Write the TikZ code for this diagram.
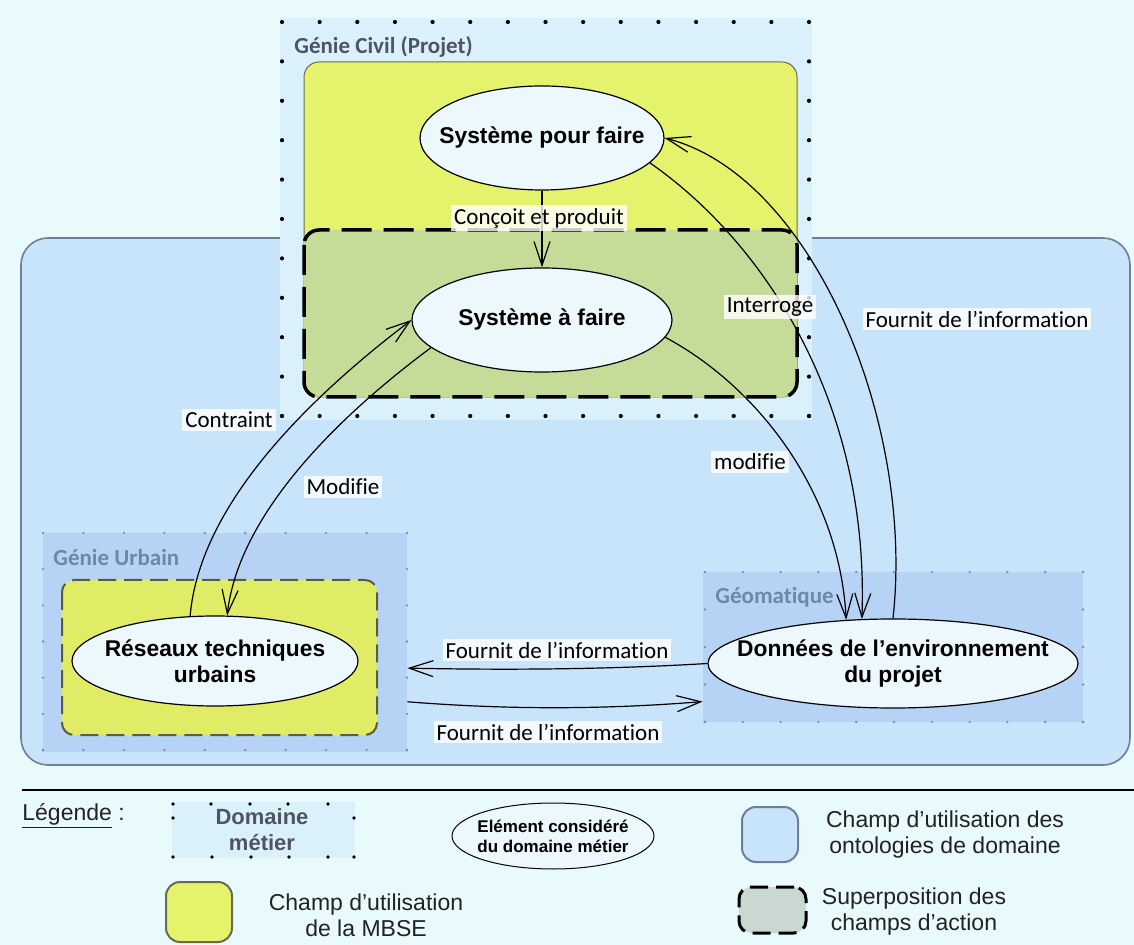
\documentclass[tikz,border=0pt]{standalone}
\usepackage{fontspec}
\setmainfont{Liberation Sans}
\newfontfamily\calibri[Ligatures=NoCommon]{Carlito}
\usetikzlibrary{arrows.meta,shapes.geometric}

\definecolor{fondclair}{HTML}{E9FAFD}
\definecolor{bleuonto}{HTML}{C8E4FA}
\definecolor{bordonto}{HTML}{6E7F96}
\definecolor{fondgc}{HTML}{DAF1FC}
\definecolor{bleudom}{HTML}{B6D3F6}
\definecolor{jaunembse}{HTML}{E5F26B}
\definecolor{bordjaune}{HTML}{6B6B4F}
\definecolor{vertsup}{HTML}{C5DC99}
\definecolor{grissup}{HTML}{C9D8D0}
\definecolor{fondelem}{HTML}{EDF8FD}
\definecolor{gristitre}{HTML}{4E5460}
\definecolor{bleutitre}{HTML}{6F87A8}
\definecolor{pointgris}{HTML}{7F8FA6}
\definecolor{texteleg}{HTML}{222222}

\newcommand{\dotframe}[8]{%
  \foreach \i in {0,...,#5}{
    \fill[#7] ({#1+\i*(#3-#1)/#5},#2) circle (#8);
    \fill[#7] ({#1+\i*(#3-#1)/#5},#4) circle (#8);
  }
  \foreach \j in {1,...,#6}{
    \fill[#7] (#1,{#2+\j*(#4-#2)/#6}) circle (#8);
    \fill[#7] (#3,{#2+\j*(#4-#2)/#6}) circle (#8);
  }
}

\tikzset{
  elem/.style={ellipse, draw, fill=fondelem, line width=0.6pt, inner xsep=-40pt, inner ysep=0pt,
    align=center, font=\fontsize{11.4}{13}\selectfont\bfseries},
  lien/.style={line width=0.6pt, -{Straight Barb[length=12pt,width=8pt]}},
  etiq/.style={fill=white, fill opacity=0.8, text opacity=1, inner sep=1.5pt,
    font=\calibri\fontsize{11.5}{13}\selectfont},
  domaine/.style={anchor=west, inner sep=0pt, font=\calibri\fontsize{11.5}{13}\selectfont\bfseries},
  legtxt/.style={align=center, text=texteleg, font=\fontsize{11.5}{13}\selectfont},
}

\begin{document}
\begin{tikzpicture}[x=0.5pt, y=-0.5pt]
    \useasboundingbox (0,0) rectangle (1134,945);
    \fill[fondclair] (0,0) rectangle (1134,945);

    \draw[fill=bleuonto, draw=bordonto, line width=0.8pt, rounded corners=13.5pt] (21,238) rectangle (1130,765);

    \fill[fondgc] (280,18) rectangle (812,420);
    \dotframe{282}{22}{809}{416}{14}{10}{black}{1.05pt}
    \node[domaine, text=gristitre] (tgc) at (294,47) {Génie Civil (Projet)};

    \draw[fill=jaunembse, draw=bordjaune, line width=0.5pt, rounded corners=7.5pt] (304,62) rectangle (797,397);
    \draw[fill=vertsup, line width=1.75pt, dash pattern=on 15pt off 6pt, rounded corners=7.5pt] (304,230) rectangle (797,397);

    \node[fill=bleudom, minimum width=182pt, minimum height=109.5pt, inner sep=0pt] (gu) at (225,642.5) {};
    \dotframe{43}{533}{407}{750}{9}{6}{pointgris}{0.65pt}
    \node[domaine, text=bleutitre] (tgu) at (53,558) {Génie Urbain};
    \draw[fill=jaunembse!95!olive, draw=bordjaune!85!black, line width=1pt, dash pattern=on 9pt off 4pt, rounded corners=6pt] (62,580) rectangle (377,735);

    \node[fill=bleudom, minimum width=190pt, minimum height=75pt, inner sep=0pt] (geo) at (893,647) {};
    \dotframe{705}{572}{1083}{722}{10}{4}{pointgris}{0.65pt}
    \node[domaine, text=bleutitre] (tgeo) at (715,597) {Géomatique};

    \node[elem, minimum width=122pt, minimum height=52pt] (spf) at (542,138) {Système pour faire};
    \node[elem, minimum width=130pt, minimum height=52pt] (saf) at (542,320) {Système à faire};
    \node[elem, minimum width=143pt, minimum height=45pt] (rtu) at (215,661) {Réseaux techniques\\urbains};
    \node[elem, minimum width=185pt, minimum height=44.5pt] (dep) at (893,663.5) {Données de l’environnement\\du projet};

    \draw[lien] (spf) -- (saf);
    \draw[lien] (spf.-13) .. controls +(111,77) and +(8,-220) .. (dep.125);
    \draw[lien] (dep.north) .. controls +(22,-199) and +(146,37) .. (spf.east);
    \draw[lien] (saf.-8) .. controls +(90,48) and +(-7,-130) .. (dep.137);
    \draw[lien] (rtu.119) .. controls +(10,-117) and +(-92,70) .. (saf.west);
    \draw[lien] (saf.194) .. controls +(-62,46) and +(13,-116) .. (rtu.75);
    \draw[lien] (dep.west) .. controls +(-100,6) and +(100,2) .. (gu.-8);
    \draw[lien] (gu.-18.4) .. controls +(100,8) and +(-100,8) .. (geo.196.4);

    \node[etiq] (lcp) at (539,218) {Conçoit et produit};
    \node[etiq] (lint) at (770,307) {Interroge};
    \node[etiq] (lfi1) at (977,319) {Fournit de l’information};
    \node[etiq] (lmod) at (750,462) {modifie};
    \node[etiq] (lcon) at (229,420) {Contraint};
    \node[etiq] (lmodi) at (343,487) {Modifie};
    \node[etiq] (lfi2) at (557,650) {Fournit de l’information};
    \node[etiq] (lfi3) at (548,732) {Fournit de l’information};

    \draw[line width=0.6pt] (22,790) -- (1134,790);
    \node[anchor=base west, inner sep=0pt, text=texteleg, font=\fontsize{11.5}{13}\selectfont] (leg) at (22,820) {\underline{Légende}~:};

    \fill[fondgc] (172,802) rectangle (355,858);
    \foreach \x in {173,211,250,288,328} \fill[black] (\x,804) circle (0.9pt);
    \foreach \x in {173,212,251,289,328,354} \fill[black] (\x,857) circle (0.9pt);
    \fill[black] (173,818) circle (0.9pt) (354,818) circle (0.9pt);
    \node[align=center, text=gristitre, font=\fontsize{11}{13}\selectfont\bfseries] (ldom) at (262,830) {Domaine\\métier};

    \node[elem, line width=0.5pt, minimum width=101pt, minimum height=33pt, font=\fontsize{8.5}{10}\selectfont\bfseries] (lelem) at (553,836) {Elément considéré\\du domaine métier};

    \node[draw=bordonto, fill=bleuonto, line width=1pt, rounded corners=7pt, minimum width=28pt, minimum height=27.5pt, inner sep=0pt] (lonto) at (770,834.5) {};
    \node[legtxt] (tonto) at (945,835) {Champ d’utilisation des\\ontologies de domaine};

    \node[draw=bordjaune, fill=jaunembse, line width=1pt, rounded corners=7pt, minimum width=33pt, minimum height=30pt, inner sep=0pt] (lmbse) at (199,912) {};
    \node[legtxt] (tmbse) at (366,915.5) {Champ d’utilisation\\de la MBSE};

    \node[draw=black, fill=grissup, line width=1.5pt, dash pattern=on 9pt off 4pt, rounded corners=6pt, minimum width=33.5pt, minimum height=23pt, inner sep=0pt] (lsup) at (772.5,910) {};
    \node[legtxt] (tsup) at (914,912) {Superposition des\\champs d’action};
\end{tikzpicture}
\end{document}
